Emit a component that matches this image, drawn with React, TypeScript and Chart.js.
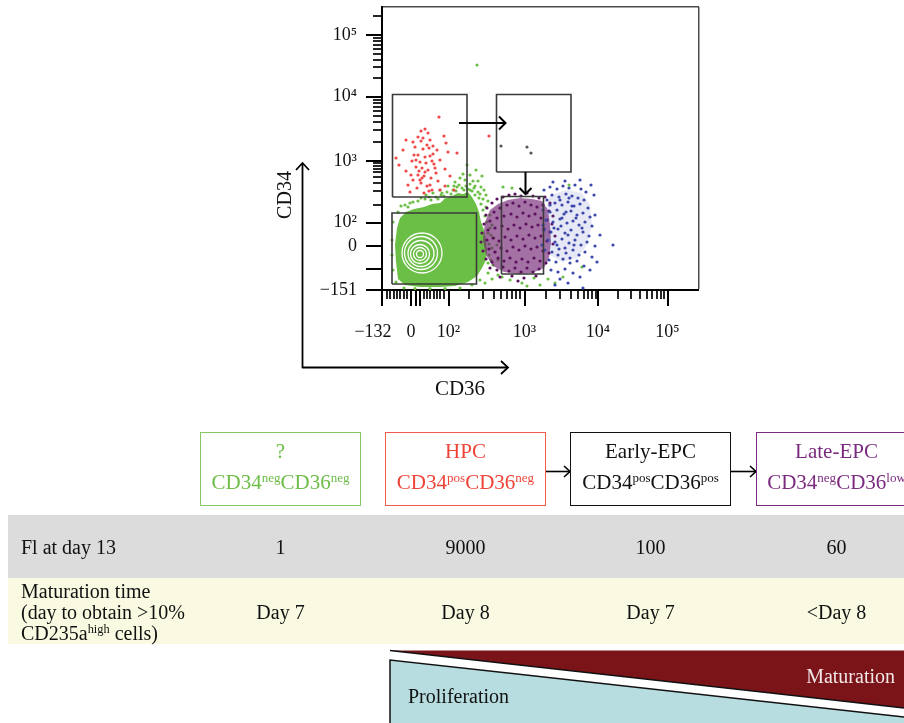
import React, { useEffect, useRef } from 'react';
import { Chart, registerables } from 'chart.js';

Chart.register(...registerables);

type P = [number, number];

// ---------- axes, in display channels ----------
const X_MAX = 317;
const Y_MAX = 283;
const X_MAJOR: number[] = [0, 29, 66.5, 142.5, 216, 285.5];
const X_MAJOR_LABELS: string[] = ['−132    ', '0', '10²', '10³', '10⁴', '10⁵'];
const X_LONG: number[] = [33.5, 38];
const X_MINOR: number[] = [5, 8.4, 11.7, 15, 18.4, 21.7, 25, 41.7, 45, 48.4, 51.7, 55, 58.4, 61.7, 87, 101, 111.7, 119, 125, 129.7, 134.4, 138.4, 164.4, 178.4, 189, 196.4, 202.4, 206.4, 210.4, 213.7, 236, 248.7, 257.7, 265, 270.4, 275, 279, 282.4];
const Y_MAJOR: number[] = [0, 44, 67.3, 129, 193.3, 255];
const Y_MAJOR_LABELS: string[] = ['−151', '0', '10²', '10³', '10⁴', '10⁵'];
const Y_LONG: number[] = [20.7];
const Y_MINOR: number[] = [85, 99, 107.5, 113, 117.5, 121, 124, 126.7, 148.4, 159.7, 167.7, 174, 179.1, 183.3, 187.1, 190.4, 211.9, 222.7, 230.4, 236.4, 241.3, 245.4, 249, 252.2, 274];

// ---------- events (CD36 channel, CD34 channel) ----------
const GREEN_CORE: P[] = [[14,28],[13,45],[15,62],[18,72],[24,78],[32,81],[42,83],[50,86],[58,87],[64,92],[70,94],[76,97],[81,96],[86,98],[90,93],[94,86],[97,78],[99,68],[102,60],[104,50],[105,40],[104,30],[100,22],[95,14],[86,8],[73,4],[58,3],[38,3],[23,5],[16,11]];
const GREEN_PTS: P[] = [[23,85],[28,87],[36,89],[43,91],[49,90],[54,93],[59,95],[65,98],[71,100],[75,103],[80,102],[84,104],[88,106],[92,102],[96,98],[83,110],[88,115],[96,109],[101,91],[104,83],[108,75],[110,65],[112,52],[113,38],[111,25],[106,17],[116,15],[120,13],[140,7],[145,4],[152,12],[166,11],[181,13],[121,103],[130,102],[187,105],[200,23],[19,84],[16,78],[11,68],[10,50],[10,35],[11,20],[14,8],[22,2],[33,1.5],[48,1.5],[63,1.5],[78,2],[90,5],[98,10],[73,108],[66,104],[58,100],[51,97],[44,95],[78,94],[63,90],[102,100],[94,120],[85,125],[108,62],[115,45],[116,30],[103,7],[110,11],[128,10],[158,5],[173,7],[78,112],[95,225],[69,96],[74,99],[82,100],[86,101],[90,99],[93,95],[97,92],[99,86],[101,80],[103,74],[105,68],[106,57],[107,46],[107,35],[106,27],[68,92],[77,105],[91,109],[99,103],[104,95],[106,89],[62,94],[56,91],[47,93],[39,92],[31,88],[26,83],[85,95],[109,55],[110,42],[109,30],[100,114],[81,116],[72,104],[60,97],[88,100],[93,104],[98,96]];
const CONTOURS = [
  { x: 40, y: 37, r: 20 },
  { x: 39, y: 37, r: 16.5 },
  { x: 39, y: 36.5, r: 13 },
  { x: 38, y: 36, r: 9.5 },
  { x: 38, y: 36, r: 6.5 },
  { x: 38, y: 36, r: 3.5 },
];
const RED_PTS: P[] = [[57,173],[43,161],[39,159],[46,157],[62,154],[24,150],[31,148],[39,149],[48,150],[51,144],[64,147],[33,143],[41,141],[21,140],[55,140],[66,138],[75,137],[14,132],[36,135],[43,133],[48,134],[30,129],[38,128],[44,127],[50,129],[58,130],[34,123],[40,122],[46,120],[53,122],[24,119],[63,121],[36,115],[42,114],[49,112],[31,110],[56,109],[39,107],[45,104],[35,102],[50,100],[63,104],[42,97],[28,98],[68,114],[17,125],[54,117],[37,119],[45,145],[51,136],[36,153],[48,105],[32,135],[40,112],[58,100],[72,100],[26,105],[107,154],[41,152],[47,142],[34,130],[52,126],[43,118],[38,110],[47,99],[29,115]];
const PURPLE_CORE: P[] = [[103,68],[108,80],[116,86],[126,90],[138,92],[150,91],[160,89],[166,80],[168,65],[169,48],[167,32],[162,22],[150,17],[136,16],[122,18],[111,24],[104,35],[101,50]];
const PURPLE_PTS: P[] = [[105,82],[110,87],[115,91],[121,93],[127,95],[133,96],[139,94],[145,97],[151,94],[157,92],[163,93],[168,87],[104,75],[112,78],[118,82],[125,85],[131,87],[137,84],[143,88],[149,85],[155,83],[161,85],[167,79],[171,74],[102,66],[108,69],[115,72],[122,74],[129,76],[135,73],[141,77],[147,74],[153,76],[159,72],[165,70],[170,66],[100,57],[106,60],[113,62],[120,64],[126,61],[132,65],[138,62],[144,66],[150,63],[156,65],[162,61],[168,58],[173,54],[99,48],[105,50],[111,52],[117,49],[123,53],[129,50],[135,54],[141,51],[147,55],[153,52],[159,54],[165,49],[171,46],[101,39],[107,41],[113,38],[119,42],[125,39],[131,43],[137,40],[143,44],[149,41],[155,43],[161,39],[167,37],[104,31],[110,28],[116,32],[122,29],[128,32],[134,28],[140,31],[146,28],[152,32],[158,29],[164,27],[108,22],[115,20],[121,23],[127,19],[133,22],[139,18],[145,22],[151,18],[157,21],[118,13],[130,14],[142,12],[154,14],[136,9]];
const BLUE_CORE: P[] = [[168,95],[185,100],[200,97],[208,85],[210,65],[205,45],[195,32],[180,28],[168,35],[163,55],[163,78]];
const BLUE_PTS: P[] = [[162,100],[168,103],[175,101],[181,104],[187,102],[193,105],[199,101],[204,98],[170,95],[177,93],[184,96],[190,94],[196,92],[202,90],[165,90],[173,87],[180,85],[186,88],[192,84],[198,86],[206,82],[161,80],[168,78],[175,80],[182,76],[189,79],[195,75],[201,77],[208,73],[164,70],[171,68],[178,71],[185,67],[191,69],[197,65],[203,68],[210,64],[162,60],[169,58],[176,61],[183,57],[189,60],[195,55],[201,58],[207,54],[166,50],[173,48],[180,51],[187,47],[193,50],[199,45],[205,48],[213,44],[163,40],[170,38],[177,41],[184,37],[191,40],[197,35],[203,38],[210,33],[167,30],[174,28],[181,31],[188,27],[195,29],[202,24],[169,20],[176,18],[183,21],[191,17],[198,13],[178,11],[186,7],[173,5],[208,20],[215,28],[218,55],[213,75],[231,45],[160,45],[161,65],[212,95],[209,105],[198,110],[183,109],[171,108],[201,2],[188,32],[179,64],[184,78],[192,45],[172,62],[180,72],[186,55],[175,45],[190,84],[178,90],[194,72],[168,85],[183,42],[200,62],[176,35],[187,92]];
const GRAY_PTS: P[] = [[119,144],[145,143],[149,137]];

// gates: [x0, y0, x1, y1]
const GATE_HPC = [10.5, 93, 85, 195.5];
const GATE_EARLY = [114.5, 118, 189, 195.5];
const GATE_NEG = [10, 6, 94.5, 77];
const GATE_LATE = [119.5, 16, 161.5, 93.5];
const ARROW1_SHAFT: P[] = [[77, 167], [123.5, 167]];
const ARROW1_HEAD: P[] = [[117, 173.5], [123.5, 167], [117, 160.5]];
const ARROW2_SHAFT: P[] = [[143.5, 118], [143.5, 96]];
const ARROW2_HEAD: P[] = [[137.5, 102], [143.5, 96], [149.5, 102]];

// ---------- table ----------
const CELL_NAMES = ['?', 'HPC', 'Early-EPC', 'Late-EPC'];
const CD34_STATE = ['neg', 'pos', 'pos', 'neg'];
const CD36_STATE = ['neg', 'neg', 'pos', 'low'];
const FI_DAY13 = ['1', '9000', '100', '60'];
const MATURATION_DAY = ['Day 7', 'Day 8', 'Day 7', '<Day 8'];

// ---------- styles / layout ----------
const SERIF = "'Liberation Serif', 'DejaVu Serif', serif";
const COL_COLORS = ['#6dbd48', '#ee4438', '#111111', '#7b2b7f'];
const BOX_BORDERS = ['#86c966', '#ef5a4c', '#111111', '#7b2b7f'];
const COL_LEFT = [200, 385, 570, 756];
const COL_W = 161;

const pts = (a: P[]) => a.map(([x, y]) => ({ x, y }));
const closed = (a: P[]) => [...pts(a), { x: a[0][0], y: a[0][1] }];
const rect = (g: number[]) => [
  { x: g[0], y: g[1] }, { x: g[2], y: g[1] }, { x: g[2], y: g[3] }, { x: g[0], y: g[3] }, { x: g[0], y: g[1] },
];

function buildTicks(major: number[], labels: string[], long: number[], minor: number[], max: number) {
  const t: any[] = [];
  major.forEach((v, i) => t.push({ value: v, kind: 'major', lbl: labels[i] }));
  long.forEach((v) => t.push({ value: v, kind: 'major', lbl: '' }));
  minor.forEach((v) => t.push({ value: v, kind: 'minor', lbl: '' }));
  t.push({ value: max, kind: 'frame', lbl: '' });
  t.sort((a, b) => a.value - b.value);
  return t;
}

function axis(isX: boolean) {
  const major = isX ? X_MAJOR : Y_MAJOR;
  const labels = isX ? X_MAJOR_LABELS : Y_MAJOR_LABELS;
  const long = isX ? X_LONG : Y_LONG;
  const minor = isX ? X_MINOR : Y_MINOR;
  const max = isX ? X_MAX : Y_MAX;
  return {
    type: 'linear',
    position: isX ? 'bottom' : 'left',
    min: 0,
    max,
    bounds: 'data',
    afterBuildTicks: (s: any) => { s.ticks = buildTicks(major, labels, long, minor, max); },
    afterFit: (s: any) => {
      if (isX) s.height = 55; else s.width = 82;
      s.paddingLeft = 0; s.paddingRight = 0; s.paddingTop = 0; s.paddingBottom = 0;
    },
    border: { display: true, color: '#000', width: 2 },
    grid: {
      drawOnChartArea: true,
      color: (c: any) => (c.tick && c.tick.kind === 'frame' ? '#4a4a4a' : 'rgba(0,0,0,0)'),
      lineWidth: (c: any) => (c.tick && c.tick.kind === 'frame' ? 1.5 : 0),
      tickLength: 16,
      tickColor: (c: any) => (c.tick && c.tick.kind === 'frame' ? 'rgba(0,0,0,0)' : '#000'),
      tickWidth: (c: any) => (c.tick && c.tick.kind === 'minor' ? 1.7 : 2),
      tickBorderDash: (c: any) => (c.tick && c.tick.kind === 'minor' ? (isX ? [8, 100] : [9, 100]) : []),
      tickBorderDashOffset: (c: any) => (!isX && c.tick && c.tick.kind === 'minor' ? 102 : 0),
    },
    ticks: {
      autoSkip: false,
      maxRotation: 0,
      minRotation: 0,
      padding: isX ? 15 : 9,
      color: '#111',
      font: { family: SERIF, size: 18 },
      callback: (_v: any, i: number, ticks: any[]) => (ticks[i] && ticks[i].lbl) || '',
    },
  };
}

const dots = (data: P[], color: string, r = 1.6) => ({
  type: 'scatter', data: pts(data), backgroundColor: color, borderWidth: 0, pointRadius: r,
});
const line = (data: any[], color: string, width: number) => ({
  type: 'scatter', data, showLine: true, borderColor: color, borderWidth: width, pointRadius: 0, fill: false,
});
const area = (data: P[], color: string) => ({
  type: 'scatter', data: closed(data), showLine: true, borderWidth: 0, borderColor: 'rgba(0,0,0,0)',
  backgroundColor: color, pointRadius: 0, fill: 'shape',
});

export default function App() {
  const ref = useRef<HTMLCanvasElement | null>(null);

  useEffect(() => {
    if (!ref.current) return;
    const gateColor = '#3a3a3a';
    const datasets: any[] = [
      line(pts(ARROW1_SHAFT), '#000', 2),
      line(pts(ARROW1_HEAD), '#000', 2),
      line(pts(ARROW2_SHAFT), '#000', 2),
      line(pts(ARROW2_HEAD), '#000', 2),
      line(rect(GATE_HPC), gateColor, 1.6),
      line(rect(GATE_EARLY), gateColor, 1.6),
      line(rect(GATE_NEG), gateColor, 1.6),
      line(rect(GATE_LATE), gateColor, 1.6),
      dots(GRAY_PTS, '#555'),
      dots(BLUE_PTS, '#3c48aa'),
      area(BLUE_CORE, 'rgba(70,80,175,0.13)'),
      dots(PURPLE_PTS, '#5c115e'),
      area(PURPLE_CORE, 'rgba(108,26,110,0.62)'),
      dots(RED_PTS, '#f04848'),
      {
        type: 'bubble', data: CONTOURS, backgroundColor: 'rgba(0,0,0,0)', borderColor: '#ffffff', borderWidth: 1.3,
      },
      dots(GREEN_PTS, '#6cbf46'),
      area(GREEN_CORE, '#6cbf46'),
    ];
    datasets.forEach((d, i) => { d.order = i; });
    const chart = new Chart(ref.current, {
      type: 'scatter',
      data: { datasets },
      options: {
        animation: false,
        responsive: false,
        events: [],
        layout: { autoPadding: false, padding: { left: 0, right: 21, top: 7, bottom: 0 } },
        plugins: { legend: { display: false }, tooltip: { enabled: false } },
        scales: { x: axis(true), y: axis(false) },
      } as any,
    } as any);
    return () => chart.destroy();
  }, []);

  const sup = { fontSize: '0.62em', verticalAlign: '0.55em', lineHeight: 0 } as React.CSSProperties;

  return (
    <div style={{ position: 'absolute', left: 0, top: 0, width: 904, height: 723, overflow: 'hidden', background: '#fff', fontFamily: SERIF, color: '#111' }}>
      <canvas ref={ref} width={420} height={345} style={{ position: 'absolute', left: 300, top: 0, width: 420, height: 345 }} />

      <div style={{ position: 'absolute', left: 8, top: 515, width: 896, height: 63, background: '#dcdcdc' }} />
      <div style={{ position: 'absolute', left: 8, top: 578, width: 896, height: 66, background: '#fafae2' }} />

      <svg width={904} height={723} style={{ position: 'absolute', left: 0, top: 0, pointerEvents: 'none' }}>
        <g stroke="#000" strokeWidth={1.8} fill="none">
          <line x1={302.5} y1={368} x2={302.5} y2={163} />
          <polyline points="296,170 302.5,163 309,170" />
          <line x1={302} y1={367.5} x2={508} y2={367.5} />
          <polyline points="501,361 508,367.5 501,374" />
        </g>
        <text transform="translate(291,195) rotate(-90)" textAnchor="middle" fontFamily={SERIF} fontSize={20} fill="#111">CD34</text>
        <text x={460} y={395} textAnchor="middle" fontFamily={SERIF} fontSize={21} fill="#111">CD36</text>

        <g stroke="#000" strokeWidth={1.6} fill="none">
          <line x1={545} y1={471.5} x2={570} y2={471.5} />
          <polyline points="564,466 570,471.5 564,477" />
          <line x1={731} y1={471.5} x2={756} y2={471.5} />
          <polyline points="750,466 756,471.5 750,477" />
        </g>

        <polygon points="390,650.5 904,650.5 904,708" fill="#7a1419" />
        <line x1={390} y1={650.5} x2={904} y2={708} stroke="#111" strokeWidth={1.5} />
        <polygon points="390,660 904,717 904,723 390,723" fill="#b8dde0" />
        <polyline points="390,723 390,660 904,717" stroke="#111" strokeWidth={1.5} fill="none" />
        <text x={408} y={703} fontFamily={SERIF} fontSize={20} fill="#111">Proliferation</text>
        <text x={895} y={683} textAnchor="end" fontFamily={SERIF} fontSize={20} fill="#f3e6e6">Maturation</text>
      </svg>

      {CELL_NAMES.map((name, i) => (
        <div key={name} style={{ position: 'absolute', left: COL_LEFT[i], top: 432, width: COL_W, height: 73.5, boxSizing: 'border-box', border: `1.5px solid ${BOX_BORDERS[i]}`, color: COL_COLORS[i], fontSize: 21, whiteSpace: 'nowrap' }}>
          <div style={{ position: 'absolute', left: 0, right: 0, top: 7.5, lineHeight: '21px', textAlign: 'center' }}>{name}</div>
          <div style={{ position: 'absolute', left: -20, right: -20, top: 39, lineHeight: '21px', textAlign: 'center' }}>
            CD34<span style={sup}>{CD34_STATE[i]}</span>CD36<span style={sup}>{CD36_STATE[i]}</span>
          </div>
        </div>
      ))}

      <div style={{ position: 'absolute', left: 21, top: 536.5, fontSize: 20, lineHeight: '20px', whiteSpace: 'nowrap' }}>Fl at day 13</div>
      {FI_DAY13.map((v, i) => (
        <div key={'fi' + i} style={{ position: 'absolute', left: COL_LEFT[i] - 20, width: COL_W + 40, top: 536.5, fontSize: 20, lineHeight: '20px', textAlign: 'center' }}>{v}</div>
      ))}

      <div style={{ position: 'absolute', left: 21, top: 580.5, fontSize: 20, lineHeight: '21.3px', whiteSpace: 'nowrap' }}>
        <div>Maturation time</div>
        <div>(day to obtain &gt;10%</div>
        <div>CD235a<span style={sup}>high</span> cells)</div>
      </div>
      {MATURATION_DAY.map((v, i) => (
        <div key={'md' + i} style={{ position: 'absolute', left: COL_LEFT[i] - 20, width: COL_W + 40, top: 601.5, fontSize: 20, lineHeight: '20px', textAlign: 'center' }}>{v}</div>
      ))}
    </div>
  );
}
